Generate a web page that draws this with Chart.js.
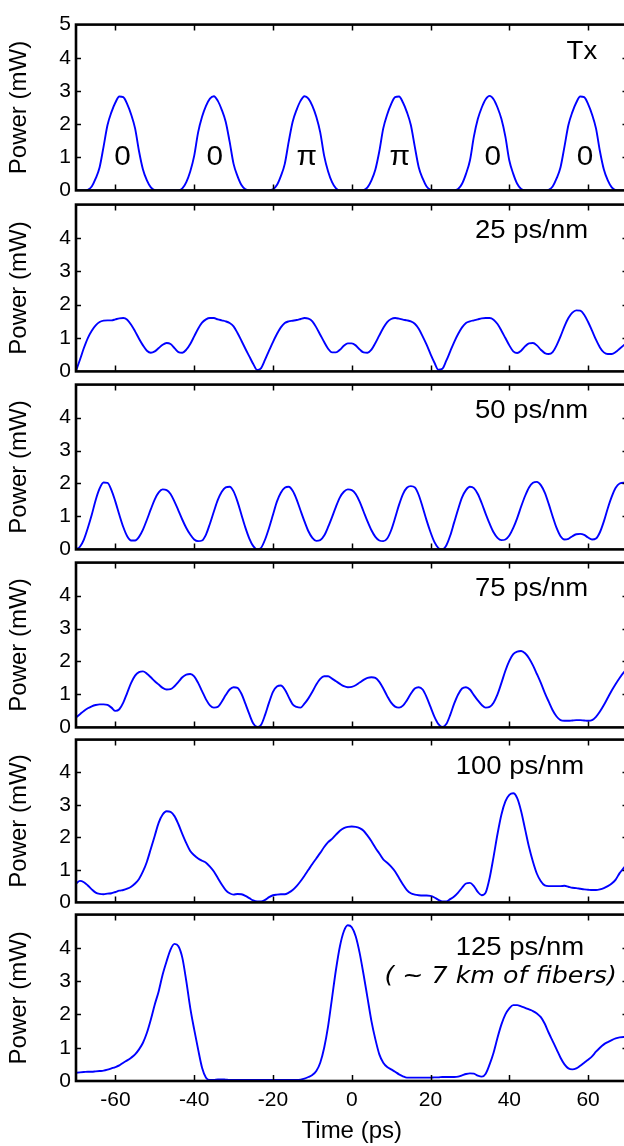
<!DOCTYPE html>
<html>
<head>
<meta charset="utf-8">
<script src="https://cdn.jsdelivr.net/npm/chart.js@4.4.1/dist/chart.umd.min.js"></script>
<style>
  html, body { margin: 0; padding: 0; background: #fff; overflow: hidden; }
  #wrap { position: relative; width: 624px; height: 1146px; overflow: hidden; }
  canvas { position: absolute; left: 0; }
</style>
</head>
<body>
<div id="wrap"></div>
<script>
// sample times in ps (one reading per ps, -70 .. 70)
const times = [
  -70, -69, -68, -67, -66, -65, -64, -63, -62, -61,
  -60, -59, -58, -57, -56, -55, -54, -53, -52, -51,
  -50, -49, -48, -47, -46, -45, -44, -43, -42, -41,
  -40, -39, -38, -37, -36, -35, -34, -33, -32, -31,
  -30, -29, -28, -27, -26, -25, -24, -23, -22, -21,
  -20, -19, -18, -17, -16, -15, -14, -13, -12, -11,
  -10, -9, -8, -7, -6, -5, -4, -3, -2, -1,
  0, 1, 2, 3, 4, 5, 6, 7, 8, 9,
  10, 11, 12, 13, 14, 15, 16, 17, 18, 19,
  20, 21, 22, 23, 24, 25, 26, 27, 28, 29,
  30, 31, 32, 33, 34, 35, 36, 37, 38, 39,
  40, 41, 42, 43, 44, 45, 46, 47, 48, 49,
  50, 51, 52, 53, 54, 55, 56, 57, 58, 59,
  60, 61, 62, 63, 64, 65, 66, 67, 68, 69,
  70
];

// power readings in mW
const txPower = [
  0, 0, 0, 0.02, 0.12, 0.36, 0.7, 1.32, 1.97, 2.36,
  2.65, 2.83, 2.81, 2.6, 2.29, 1.87, 1.18, 0.63, 0.3, 0.09,
  0.01, 0, 0, 0, 0, 0, 0, 0.06, 0.25, 0.57,
  1.04, 1.75, 2.22, 2.55, 2.77, 2.84, 2.7, 2.43, 2.07, 1.47,
  0.8, 0.43, 0.16, 0.03, 0, 0, 0, 0, 0, 0,
  0.03, 0.16, 0.43, 0.8, 1.47, 2.07, 2.43, 2.7, 2.84, 2.77,
  2.55, 2.22, 1.75, 1.04, 0.57, 0.25, 0.06, 0, 0, 0,
  0, 0, 0, 0.01, 0.09, 0.3, 0.63, 1.18, 1.87, 2.29,
  2.6, 2.81, 2.83, 2.65, 2.36, 1.97, 1.32, 0.7, 0.36, 0.12,
  0.02, 0, 0, 0, 0, 0, 0, 0.04, 0.2, 0.5,
  0.9, 1.62, 2.15, 2.5, 2.75, 2.85, 2.75, 2.5, 2.15, 1.62,
  0.9, 0.5, 0.2, 0.04, 0, 0, 0, 0, 0, 0,
  0.02, 0.12, 0.36, 0.7, 1.32, 1.97, 2.36, 2.65, 2.83, 2.81,
  2.6, 2.29, 1.87, 1.18, 0.63, 0.3, 0.09, 0.01, 0, 0,
  0
];

const d25Power = [
  0.02, 0.35, 0.7, 1.0, 1.22, 1.38, 1.48, 1.52, 1.53, 1.53,
  1.56, 1.59, 1.6, 1.55, 1.4, 1.2, 0.98, 0.78, 0.62, 0.56,
  0.6, 0.7, 0.8, 0.85, 0.82, 0.7, 0.58, 0.56, 0.65, 0.82,
  1.05, 1.28, 1.46, 1.56, 1.6, 1.6, 1.56, 1.53, 1.5, 1.45,
  1.35, 1.15, 0.92, 0.68, 0.45, 0.22, 0.04, 0.1, 0.35, 0.62,
  0.88, 1.12, 1.32, 1.45, 1.5, 1.52, 1.54, 1.57, 1.6, 1.58,
  1.5, 1.32, 1.1, 0.88, 0.68, 0.57, 0.57, 0.65, 0.77, 0.84,
  0.84, 0.78, 0.66, 0.57, 0.56, 0.65, 0.85, 1.08, 1.3, 1.48,
  1.57, 1.6, 1.58, 1.55, 1.53, 1.5, 1.43, 1.28, 1.05, 0.8,
  0.52, 0.26, 0.05, 0.08, 0.32, 0.6, 0.88, 1.12, 1.32, 1.45,
  1.5, 1.53, 1.56, 1.59, 1.6, 1.6, 1.55, 1.42, 1.22, 1.0,
  0.78, 0.6, 0.55, 0.62, 0.75, 0.84, 0.85, 0.78, 0.65, 0.55,
  0.52, 0.58, 0.78, 1.05, 1.35, 1.6, 1.76, 1.83, 1.82, 1.7,
  1.48, 1.22, 0.95, 0.72, 0.57, 0.52, 0.52, 0.58, 0.68, 0.78,
  0.88
];

const d50Power = [
  0.0, 0.08, 0.3, 0.65, 1.05, 1.5, 1.85, 2.03, 2.02, 1.8,
  1.45, 1.05, 0.68, 0.4, 0.27, 0.27, 0.38, 0.6, 0.9, 1.22,
  1.52, 1.73, 1.82, 1.8, 1.68, 1.45, 1.18, 0.9, 0.65, 0.45,
  0.3, 0.25, 0.27, 0.45, 0.78, 1.15, 1.5, 1.75, 1.88, 1.9,
  1.76, 1.45, 1.05, 0.66, 0.33, 0.1, 0.0, 0.05, 0.3, 0.65,
  1.05, 1.45, 1.72, 1.87, 1.9, 1.78, 1.52, 1.18, 0.85, 0.55,
  0.35, 0.26, 0.28, 0.42, 0.68, 0.98, 1.3, 1.58, 1.75, 1.82,
  1.8, 1.68, 1.45, 1.15, 0.85, 0.58, 0.38, 0.27, 0.25, 0.33,
  0.58, 0.95, 1.35, 1.68, 1.87, 1.92, 1.88, 1.65, 1.28, 0.88,
  0.52, 0.22, 0.04, 0.0, 0.12, 0.42, 0.82, 1.22, 1.58, 1.8,
  1.9, 1.86, 1.68, 1.4, 1.08, 0.78, 0.52, 0.35, 0.28, 0.3,
  0.42, 0.65, 0.95, 1.3, 1.62, 1.88, 2.02, 2.05, 1.95, 1.72,
  1.38, 1.0, 0.65, 0.4, 0.3, 0.32, 0.4, 0.46, 0.47, 0.44,
  0.36, 0.3, 0.33, 0.52, 0.85, 1.25, 1.6, 1.87, 2.0, 2.02,
  2.0
];

const d75Power = [
  0.3, 0.4, 0.5, 0.58, 0.64, 0.68, 0.7, 0.7, 0.68, 0.6,
  0.5, 0.55, 0.75, 1.05, 1.35, 1.57, 1.68, 1.7, 1.63, 1.52,
  1.4, 1.3, 1.2, 1.15, 1.16, 1.25, 1.38, 1.52, 1.6, 1.62,
  1.55, 1.35, 1.1, 0.85, 0.67, 0.6, 0.62, 0.78, 0.98, 1.15,
  1.22, 1.2, 1.02, 0.72, 0.4, 0.12, 0.01, 0.08, 0.38, 0.75,
  1.08, 1.24, 1.27, 1.15, 0.92, 0.7, 0.62, 0.6, 0.72, 0.88,
  1.08, 1.3, 1.47, 1.55, 1.55, 1.48, 1.4, 1.32, 1.25, 1.22,
  1.23, 1.28, 1.36, 1.44, 1.5, 1.52, 1.5, 1.38, 1.18, 0.95,
  0.75, 0.63, 0.6, 0.66, 0.82, 1.02, 1.18, 1.22, 1.15, 0.92,
  0.62, 0.32, 0.1, 0.01, 0.1, 0.38, 0.72, 1.0, 1.18, 1.22,
  1.15, 0.98, 0.82, 0.68, 0.6, 0.62, 0.75, 1.0, 1.35, 1.72,
  2.02, 2.22, 2.3, 2.32, 2.25, 2.1, 1.88, 1.62, 1.35, 1.05,
  0.78, 0.52, 0.33, 0.22, 0.2, 0.2, 0.21, 0.22, 0.22, 0.21,
  0.2, 0.22, 0.32, 0.48, 0.68, 0.9, 1.12, 1.32, 1.5, 1.66,
  1.78
];

const d100Power = [
  0.58, 0.66, 0.62, 0.52, 0.4, 0.3, 0.26, 0.25, 0.27, 0.28,
  0.32, 0.36, 0.38, 0.42, 0.48, 0.58, 0.72, 0.95, 1.25, 1.65,
  2.05, 2.45, 2.7, 2.8, 2.78, 2.65, 2.4, 2.1, 1.82, 1.58,
  1.45, 1.35, 1.28, 1.22, 1.1, 0.95, 0.75, 0.55, 0.38, 0.28,
  0.24, 0.26, 0.25, 0.2, 0.13, 0.06, 0.03, 0.03, 0.08, 0.16,
  0.22, 0.24, 0.25, 0.25, 0.3, 0.38, 0.5, 0.65, 0.82, 1.0,
  1.18, 1.35, 1.52, 1.7, 1.85, 1.95, 2.08, 2.2, 2.28, 2.32,
  2.33, 2.32, 2.28, 2.2, 2.05, 1.88, 1.68, 1.5, 1.32, 1.22,
  1.1, 0.95, 0.75, 0.55, 0.38, 0.28, 0.24, 0.22, 0.21, 0.21,
  0.2, 0.15, 0.08, 0.03, 0.03, 0.1, 0.18, 0.3, 0.45, 0.58,
  0.6, 0.5, 0.32, 0.22, 0.3, 0.75, 1.4, 2.1, 2.7, 3.1,
  3.3, 3.35, 3.2, 2.8, 2.25, 1.7, 1.25, 0.88, 0.65, 0.52,
  0.5, 0.5, 0.5, 0.5, 0.51, 0.48, 0.45, 0.44, 0.42, 0.4,
  0.39, 0.38, 0.38, 0.4, 0.44, 0.5, 0.58, 0.7, 0.9, 1.05,
  1.2
];

const d125Power = [
  0.25, 0.26, 0.27, 0.28, 0.28, 0.29, 0.3, 0.31, 0.34, 0.38,
  0.42, 0.47, 0.55, 0.62, 0.7, 0.8, 0.95, 1.15, 1.45, 1.85,
  2.3, 2.7, 3.2, 3.6, 3.95, 4.12, 4.05, 3.7, 3.0, 2.2,
  1.55, 0.95, 0.4, 0.1, 0.03, 0.03, 0.05, 0.05, 0.04, 0.03,
  0.03, 0.03, 0.03, 0.03, 0.03, 0.03, 0.03, 0.03, 0.03, 0.03,
  0.03, 0.03, 0.03, 0.03, 0.03, 0.03, 0.03, 0.04, 0.07, 0.12,
  0.18, 0.3, 0.55, 1.0, 1.65, 2.5, 3.35, 4.05, 4.5, 4.68,
  4.62, 4.35, 3.85, 3.2, 2.5, 1.8, 1.25, 0.8, 0.55, 0.42,
  0.35, 0.28, 0.2, 0.14, 0.1, 0.1, 0.1, 0.1, 0.1, 0.1,
  0.1, 0.11, 0.11, 0.12, 0.12, 0.12, 0.12, 0.13, 0.17, 0.21,
  0.23, 0.22, 0.16, 0.13, 0.22, 0.5, 0.85, 1.3, 1.7, 2.0,
  2.18, 2.28, 2.28, 2.24, 2.2, 2.15, 2.1, 2.03, 1.92, 1.72,
  1.45, 1.2, 0.95, 0.7, 0.5, 0.38, 0.35, 0.38, 0.46, 0.55,
  0.64, 0.74, 0.88, 1.0, 1.1, 1.17, 1.23, 1.28, 1.31, 1.32,
  1.32
];

const xTicks = [-60, -40, -20, 0, 20, 40, 60];
const yTicks = [0, 1, 2, 3, 4];
const yTicksTx = [0, 1, 2, 3, 4, 5];

// phase of each Tx pulse
const phaseNames = ["0", "0", "π", "π", "0", "0"];
const phaseTimes = [-58.2, -34.8, -11.4, 12.2, 35.8, 59.2];

Chart.defaults.font.family = "'Liberation Sans', Arial, sans-serif";
Chart.defaults.color = "#000";

const SANS = "'Liberation Sans', Arial, sans-serif";

const panels = [
  {
    data: txPower, top: 21, bottom: 194, ticks: yTicksTx,
    notes: [{ text: "Tx", t: 62.3, v: 4.16, align: "right", font: "25px " + SANS }]
      .concat(phaseNames.map((s, i) => ({ text: s, t: phaseTimes[i], v: 0.99, align: "center", font: "27px " + SANS })))
  },
  { data: d25Power, top: 201, bottom: 375, ticks: yTicks,
    notes: [{ text: "25 ps/nm", t: 60, v: 4.21, align: "right", font: "25px " + SANS }] },
  { data: d50Power, top: 381, bottom: 553, ticks: yTicks,
    notes: [{ text: "50 ps/nm", t: 60, v: 4.21, align: "right", font: "25px " + SANS }] },
  { data: d75Power, top: 559, bottom: 731, ticks: yTicks,
    notes: [{ text: "75 ps/nm", t: 60, v: 4.19, align: "right", font: "25px " + SANS }] },
  { data: d100Power, top: 736, bottom: 906, ticks: yTicks,
    notes: [{ text: "100 ps/nm", t: 59, v: 4.15, align: "right", font: "25px " + SANS }] },
  { data: d125Power, top: 911, bottom: 1081, ticks: yTicks,
    notes: [
      { text: "125 ps/nm", t: 59, v: 4.0, align: "right", font: "25px " + SANS },
      { text: "( ~ 7 km of fibers)", t: 67.3, v: 3.12, align: "right", font: "oblique 23px 'DejaVu Sans', sans-serif" }
    ] }
];

function wideText(ctx, text, px, py, align, font) {
  ctx.save();
  ctx.translate(px, py);
  ctx.scale(1.1, 1);
  ctx.font = font;
  ctx.textAlign = align;
  ctx.textBaseline = "middle";
  ctx.fillStyle = "#000";
  ctx.fillText(text, 0, 0);
  ctx.restore();
}

// box frame, inward ticks and annotations
const framePlugin = {
  id: "frame",
  afterDatasetsDraw(chart, args, opts) {
    const { ctx, chartArea: a, scales: { x, y } } = chart;
    ctx.save();
    ctx.strokeStyle = "#000";
    ctx.lineWidth = 1.5;
    ctx.beginPath();
    xTicks.forEach(v => {
      const px = Math.round(x.getPixelForValue(v)) + 0.5;
      ctx.moveTo(px, a.top); ctx.lineTo(px, a.top + 6);
      ctx.moveTo(px, a.bottom); ctx.lineTo(px, a.bottom - 6);
    });
    opts.ticks.forEach(v => {
      if (v === 0 || v === 5) return;
      const py = Math.round(y.getPixelForValue(v)) + 0.5;
      ctx.moveTo(a.left, py); ctx.lineTo(a.left + 5, py);
      ctx.moveTo(a.right, py); ctx.lineTo(a.right - 5, py);
    });
    ctx.stroke();
    ctx.lineWidth = 2.6;
    ctx.strokeRect(a.left, a.top, a.right - a.left, a.bottom - a.top);
    opts.notes.forEach(n => {
      wideText(ctx, n.text, x.getPixelForValue(n.t), y.getPixelForValue(n.v), n.align, n.font);
    });
    ctx.restore();
  }
};

const wrap = document.getElementById("wrap");

panels.forEach((p, i) => {
  const last = i === panels.length - 1;
  const padTop = 14;
  const padBottom = last ? 0 : 14;
  const axisH = last ? 1146 - p.bottom : 0;
  const h = p.bottom - p.top + padTop + padBottom + axisH;
  const cv = document.createElement("canvas");
  cv.width = 630;
  cv.height = h;
  cv.style.top = (p.top - padTop) + "px";
  cv.style.width = "630px";
  cv.style.height = h + "px";
  wrap.appendChild(cv);

  new Chart(cv, {
    type: "line",
    data: {
      datasets: [{
        data: times.map((t, k) => ({ x: t, y: p.data[k] })),
        borderColor: "#0000ff",
        borderWidth: 1.9,
        pointRadius: 0,
        cubicInterpolationMode: "monotone",
        fill: false
      }]
    },
    options: {
      responsive: false,
      animation: false,
      devicePixelRatio: 1,
      layout: { padding: { top: padTop, bottom: padBottom, left: 0, right: 2.5 } },
      plugins: {
        legend: { display: false },
        tooltip: { enabled: false },
        frame: { ticks: p.ticks, notes: p.notes }
      },
      scales: {
        x: {
          type: "linear",
          min: -70,
          max: 70,
          display: last,
          afterBuildTicks: s => { s.ticks = xTicks.map(v => ({ value: v })); },
          afterFit: s => { s.height = axisH; },
          grid: { display: false, drawTicks: false },
          border: { display: false },
          ticks: { font: { size: 21 }, padding: 7, maxRotation: 0, autoSkip: false },
          title: {
            display: true,
            text: "Time (ps)",
            font: { size: 24 },
            padding: { top: 0, bottom: 0 }
          }
        },
        y: {
          min: 0,
          max: 5,
          afterBuildTicks: s => { s.ticks = p.ticks.map(v => ({ value: v })); },
          afterFit: s => { s.width = 76; },
          grid: { display: false, drawTicks: false },
          border: { display: false },
          ticks: { font: { size: 21 }, padding: 5, autoSkip: false },
          title: {
            display: true,
            text: "Power (mW)",
            font: { size: 24 },
            padding: { top: 5, bottom: 0 }
          }
        }
      }
    },
    plugins: [framePlugin]
  });
});
</script>
</body>
</html>
